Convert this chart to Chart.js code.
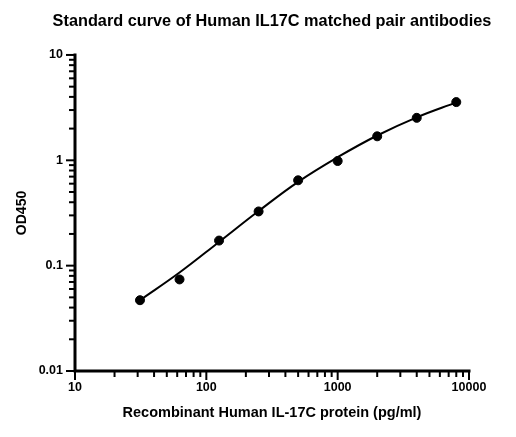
<!DOCTYPE html>
<html>
<head>
<meta charset="utf-8">
<script src="https://cdn.jsdelivr.net/npm/chart.js@4/dist/chart.umd.min.js"></script>
<style>
  html, body { margin: 0; padding: 0; background: #fff; }
  #wrap { width: 516px; height: 437px; position: relative; }
</style>
</head>
<body>
<div id="wrap"><canvas id="c"></canvas></div>
<script>
// ---- data ----
const concentrations = [31.25, 62.5, 125, 250, 500, 1000, 2000, 4000, 8000];
const odValues = [0.047, 0.074, 0.173, 0.327, 0.646, 0.985, 1.69, 2.53, 3.57];
// fitted standard curve
const curveX = [31.25, 62.5, 125, 250, 500, 1000, 2000, 4000, 8000];
const curveY = [0.047, 0.086, 0.168, 0.33, 0.625, 1.07, 1.72, 2.56, 3.55];
// axis ticks
const xTickValues = [10,20,30,40,50,60,70,80,90,100,200,300,400,500,600,700,800,900,1000,2000,3000,4000,5000,6000,7000,8000,9000,10000];
const xMajorTicks = [10, 100, 1000, 10000];
const yTickValues = [0.01,0.02,0.03,0.04,0.05,0.06,0.07,0.08,0.09,0.1,0.2,0.3,0.4,0.5,0.6,0.7,0.8,0.9,1,2,3,4,5,6,7,8,9,10];
const yMajorTicks = [0.01, 0.1, 1, 10];
const yMajorLabels = ['0.01', '0.1', '1', '10'];
const xMajorLabels = ['10', '100', '1000', '10000'];

const FONT = "'Liberation Sans', Arial, Helvetica, sans-serif";

const axisPlugin = {
  id: 'axisPlugin',
  afterDraw(chart) {
    const ctx = chart.ctx;
    const xs = chart.scales.x, ys = chart.scales.y;
    const ca = chart.chartArea;
    ctx.save();
    ctx.strokeStyle = '#000';
    ctx.lineCap = 'square';
    ctx.lineWidth = 3;
    const ax = ca.left, ay = ca.bottom;
    ctx.beginPath();
    ctx.moveTo(ax, ca.top);
    ctx.lineTo(ax, ay);
    ctx.lineTo(ca.right, ay);
    ctx.stroke();
    ctx.lineCap = 'butt';
    ctx.lineWidth = 2;
    xTickValues.forEach(v => {
      const px = xs.getPixelForValue(v);
      const len = xMajorTicks.includes(v) ? 9 : 6;
      ctx.beginPath();
      ctx.moveTo(px, ay);
      ctx.lineTo(px, ay + len);
      ctx.stroke();
    });
    yTickValues.forEach(v => {
      const py = ys.getPixelForValue(v);
      const len = yMajorTicks.includes(v) ? 9 : 6;
      ctx.beginPath();
      ctx.moveTo(ax, py);
      ctx.lineTo(ax - len, py);
      ctx.stroke();
    });
    ctx.restore();
  }
};

const ctx = document.getElementById('c');
new Chart(ctx, {
  type: 'scatter',
  data: {
    datasets: [
      {
        label: 'Curve',
        data: curveX.map((x, i) => ({ x: x, y: curveY[i] })),
        showLine: true,
        borderColor: '#000',
        borderWidth: 2,
        pointRadius: 0,
        tension: 0.4,
        fill: false,
        order: 2
      },
      {
        label: 'Standard',
        data: concentrations.map((x, i) => ({ x: x, y: odValues[i] })),
        showLine: false,
        backgroundColor: '#000',
        borderColor: '#000',
        pointRadius: 4.5,
        pointHoverRadius: 4.5,
        order: 1
      }
    ]
  },
  plugins: [axisPlugin],
  options: {
    responsive: true,
    maintainAspectRatio: false,
    animation: false,
    devicePixelRatio: 1,
    layout: { padding: { left: 28, right: 0, top: 0, bottom: 0 } },
    plugins: {
      legend: { display: false },
      tooltip: { enabled: false },
      title: {
        display: true,
        text: 'Standard curve of Human IL17C matched pair antibodies',
        color: '#000',
        font: { family: FONT, size: 16.3, weight: 'bold' },
        padding: { top: 12, bottom: 23.4 }
      }
    },
    scales: {
      x: {
        type: 'logarithmic',
        min: 10,
        max: 10000,
        afterBuildTicks(scale) { scale.ticks = xTickValues.map(v => ({ value: v })); },
        afterFit(scale) { scale.height = 66; },
        grid: { display: false, drawTicks: false },
        border: { display: false },
        ticks: {
          autoSkip: false,
          maxRotation: 0,
          padding: 9,
          color: '#000',
          font: { family: FONT, size: 12.5, weight: 'bold' },
          callback(v) { const i = xMajorTicks.indexOf(v); return i >= 0 ? xMajorLabels[i] : ''; }
        },
        title: {
          display: true,
          text: 'Recombinant Human IL-17C protein (pg/ml)',
          color: '#000',
          font: { family: FONT, size: 14.5, weight: 'bold' },
          padding: { top: 0, bottom: 15 }
        }
      },
      y: {
        type: 'logarithmic',
        position: 'left',
        min: 0.01,
        max: 10,
        afterBuildTicks(scale) { scale.ticks = yTickValues.map(v => ({ value: v })); },
        afterFit(scale) { scale.width = 47; },
        grid: { display: false, drawTicks: false },
        border: { display: false },
        ticks: {
          autoSkip: false,
          padding: 12,
          color: '#000',
          font: { family: FONT, size: 12.5, weight: 'bold' },
          callback(v) { const i = yMajorTicks.indexOf(v); return i >= 0 ? yMajorLabels[i] : ''; }
        },
        title: {
          display: true,
          text: 'OD450',
          color: '#000',
          font: { family: FONT, size: 14, weight: 'bold' },
          padding: { top: -14.4, bottom: 0 }
        }
      },
      yRight: {
        type: 'linear',
        position: 'right',
        display: true,
        afterFit(scale) { scale.width = 47; },
        grid: { display: false, drawTicks: false },
        border: { display: false },
        ticks: { display: false },
        title: { display: false }
      }
    }
  }
});
</script>
</body>
</html>
